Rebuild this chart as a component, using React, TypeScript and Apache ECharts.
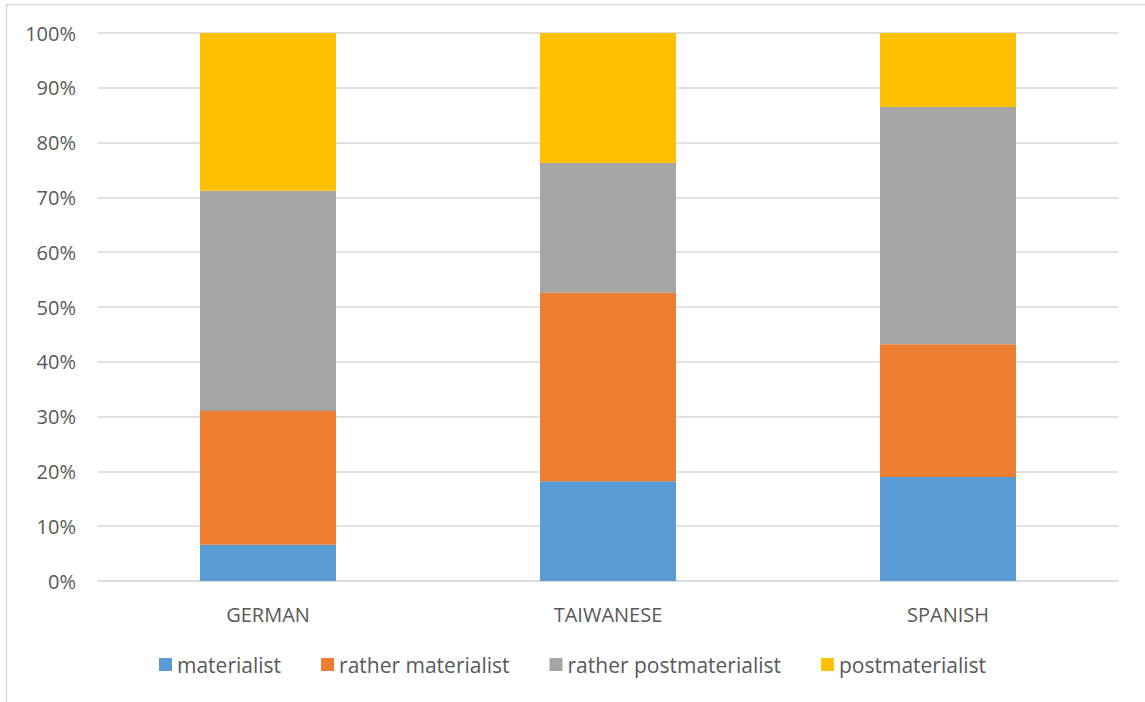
import React, { useEffect, useRef } from "react";
import * as echarts from "echarts";

const categories = ["GERMAN", "TAIWANESE", "SPANISH"];
const seriesNames = ["materialist", "rather materialist", "rather postmaterialist", "postmaterialist"];
const materialist = [6.6, 18.2, 19.0];
const ratherMaterialist = [24.4, 34.4, 24.2];
const ratherPostmaterialist = [40.2, 23.7, 43.3];
const postmaterialist = [28.8, 23.7, 13.5];
const colors = ["#5B9BD5", "#ED7D31", "#A5A5A5", "#FFC000"];

export default function App() {
  const ref = useRef<HTMLDivElement>(null);
  useEffect(() => {
    const chart = echarts.init(ref.current!, null, { renderer: "svg" });
    const data = [materialist, ratherMaterialist, ratherPostmaterialist, postmaterialist];
    const font = "'Open Sans', 'Liberation Sans', sans-serif";
    chart.setOption({
      animation: false,
      color: colors,
      textStyle: { fontFamily: font },
      graphic: [
        {
          type: "rect",
          shape: { x: 6.5, y: 4.5, width: 1200, height: 800 },
          style: { fill: "none", stroke: "#D9D9D9", lineWidth: 1.5 },
          silent: true,
        },
      ],
      grid: { left: 98, right: 27, top: 33, bottom: 121 },
      legend: {
        bottom: 22,
        left: "center",
        itemWidth: 13,
        itemHeight: 13,
        itemGap: 40,
        icon: "rect",
        textStyle: { color: "#595959", fontSize: 21, fontFamily: font },
        data: seriesNames,
      },
      xAxis: {
        type: "category",
        data: categories,
        axisLine: { lineStyle: { color: "#D9D9D9", width: 1.5 } },
        axisTick: { show: false },
        axisLabel: { color: "#595959", fontSize: 20, margin: 23, fontFamily: font },
      },
      yAxis: {
        type: "value",
        min: 0,
        max: 100,
        interval: 10,
        axisLine: { show: false },
        axisTick: { show: false },
        splitLine: { lineStyle: { color: "#D9D9D9", width: 1.5 } },
        axisLabel: { formatter: "{value}%", color: "#595959", fontSize: 20, margin: 22, fontFamily: font },
      },
      series: seriesNames.map((name, i) => ({
        name,
        type: "bar",
        stack: "total",
        barWidth: "40%",
        data: data[i],
        itemStyle: { color: colors[i] },
      })),
    });
    return () => chart.dispose();
  }, []);
  return <div ref={ref} style={{ position: "fixed", left: 0, top: 0, width: 1145, height: 702, background: "#fff" }} />;
}
